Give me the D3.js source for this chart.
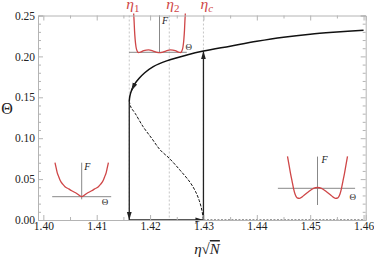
<!DOCTYPE html>
<html>
<head>
<meta charset="utf-8">
<script src="https://cdn.jsdelivr.net/npm/d3@7"></script>
<style>
body { margin: 0; background: #fff; }
text { font-family: "Liberation Serif", "Times New Roman", serif; }
</style>
</head>
<body>
<svg id="chart"></svg>
<script>
// axis ticks
const xTicks = [1.40, 1.41, 1.42, 1.43, 1.44, 1.45, 1.46];
const xMinor = [1.405, 1.415, 1.425, 1.435, 1.445, 1.455];
const yTicks = [0.00, 0.05, 0.10, 0.15, 0.20, 0.25];
const yMinor = [0.01, 0.02, 0.03, 0.04, 0.06, 0.07, 0.08, 0.09, 0.11, 0.12, 0.13, 0.14,
                0.16, 0.17, 0.18, 0.19, 0.21, 0.22, 0.23, 0.24];

// stable (upper) branch, starting at the turning point
const upperEta   = [1.4161, 1.4162, 1.4165, 1.4171, 1.4180, 1.4190, 1.4206, 1.4231, 1.4269,
                    1.4300, 1.4350, 1.4400, 1.4450, 1.4500, 1.4550, 1.4600];
const upperTheta = [0.1455, 0.151, 0.158, 0.166, 0.1735, 0.180, 0.1875, 0.1945, 0.2017,
                    0.2065, 0.2125, 0.2185, 0.2235, 0.2272, 0.2298, 0.2320];

// unstable (lower) branch
const lowerEta   = [1.4161, 1.4164, 1.4172, 1.4187, 1.4203, 1.4219, 1.4236, 1.4256, 1.4275,
                    1.4285, 1.4292, 1.4297, 1.4300];
const lowerTheta = [0.1455, 0.138, 0.1304, 0.114, 0.0999, 0.0856, 0.0754, 0.061, 0.046,
                    0.035, 0.024, 0.012, 0.000];

// unstable zero solution
const zeroEta = [1.430, 1.460];
const zeroTheta = [0, 0];

// hysteresis jumps
const jumpEta   = [[1.4161, 1.4161], [1.4161, 1.4300], [1.4300, 1.4300]];
const jumpTheta = [[0.1455, 0.000], [0.000, 0.000], [0.000, 0.2065]];

// special couplings
const etaMarks = [1.4161, 1.4236, 1.4300];
const etaSubs = ["1", "2", "c"];

// free energy insets (Theta, F)
const inset1Theta = [-1.23, -1.21, -1.19, -1.16, -1.12, -1.07, -1.0, -0.9, -0.75, -0.52, -0.3, -0.12, 0,
                     0.12, 0.3, 0.52, 0.75, 0.9, 1.0, 1.07, 1.12, 1.16, 1.19, 1.21, 1.23];
const inset1F     = [1.05, 0.85, 0.6, 0.35, 0.15, 0.04, -0.01, 0.005, 0.045, 0.065, 0.035, 0.0, -0.01,
                     0.0, 0.035, 0.065, 0.045, 0.005, -0.01, 0.04, 0.15, 0.35, 0.6, 0.85, 1.05];

const inset2Theta = [-2.67, -2.55, -2.45, -2.3, -2.17, -1.9, -1.67, -1.3, -1.0, -0.5, 0,
                     0.5, 1.0, 1.3, 1.67, 1.9, 2.17, 2.3, 2.45, 2.55, 2.67];
const inset2F     = [3.4, 2.85, 2.4, 2.0, 1.67, 1.25, 1.0, 0.78, 0.6, 0.32, 0,
                     0.32, 0.6, 0.78, 1.0, 1.25, 1.67, 2.0, 2.4, 2.85, 3.4];

const inset3Theta = [-1.5, -1.42, -1.35, -1.27, -1.2, -1.12, -1.02, -0.9, -0.7, -0.45, -0.2, 0,
                     0.2, 0.45, 0.7, 0.9, 1.02, 1.12, 1.2, 1.27, 1.35, 1.42, 1.5];
const inset3F     = [3.2, 2.3, 1.5, 0.7, 0.0, -0.6, -0.95, -1.0, -0.75, -0.35, 0.0, 0.08,
                     0.0, -0.35, -0.75, -1.0, -0.95, -0.6, 0.0, 0.7, 1.5, 2.3, 3.2];

const W = 374, H = 259;
const red = "#cf4647";
const frameCol = "#b4b4b4";

const svg = d3.select("#chart").attr("width", W).attr("height", H);

// frame is a little wider than the tick range
const x = d3.scaleLinear().domain([1.3990, 1.4604]).range([38, 365.7]);
const y = d3.scaleLinear().domain([0, 0.25]).range([220, 15.5]);

svg.append("defs").append("marker")
    .attr("id", "arr")
    .attr("markerUnits", "userSpaceOnUse")
    .attr("markerWidth", 9)
    .attr("markerHeight", 6)
    .attr("refX", 8)
    .attr("refY", 3)
    .attr("orient", "auto")
  .append("path")
    .attr("d", "M0,0.6 L8,3 L0,5.4 Z")
    .attr("fill", "#222");

// dashed guides at eta1, eta2, etac
svg.append("g").selectAll("line").data(etaMarks).enter().append("line")
    .attr("x1", d => x(d)).attr("x2", d => x(d))
    .attr("y1", y(0.25)).attr("y2", y(0))
    .attr("stroke", "#b8b8b8")
    .attr("stroke-width", 0.8)
    .attr("stroke-dasharray", "2,2");

// insets
function drawInset(th, F, box, hDom, vDom, fPos, tPos)
{
    let ix = d3.scaleLinear().domain([0, 1]).range([box.cx, box.cx + box.sx]);
    let iy = d3.scaleLinear().domain([0, 1]).range([box.cy, box.cy - box.sy]);
    let g = svg.append("g");
    g.append("line")
        .attr("x1", ix(hDom[0])).attr("x2", ix(hDom[1]))
        .attr("y1", iy(0)).attr("y2", iy(0))
        .attr("stroke", "#7a7a7a").attr("stroke-width", 0.9);
    g.append("line")
        .attr("x1", ix(0)).attr("x2", ix(0))
        .attr("y1", iy(vDom[0])).attr("y2", iy(vDom[1]))
        .attr("stroke", "#7a7a7a").attr("stroke-width", 0.9);
    let pts = th.map((t, i) => [t, F[i]]);
    g.append("path")
        .attr("d", d3.line().x(d => ix(d[0])).y(d => iy(d[1])).curve(d3.curveMonotoneX)(pts))
        .attr("fill", "none")
        .attr("stroke", red)
        .attr("stroke-width", 1.3);
    g.append("text")
        .attr("x", ix(fPos[0])).attr("y", iy(fPos[1]))
        .style("font-size", "10px").style("font-style", "italic")
        .attr("fill", "#222")
        .text("F");
    g.append("text")
        .attr("x", ix(tPos[0])).attr("y", iy(tPos[1]))
        .style("font-size", "9px")
        .attr("fill", "#222")
        .text("Θ");
}

drawInset(inset1Theta, inset1F, {cx: 159.5, cy: 52.3, sx: 21, sy: 37},
          [-1.45, 1.30], [-0.02, 1.0], [0.12, 0.76], [1.24, 0.06]);
drawInset(inset2Theta, inset2F, {cx: 81.7, cy: 196.7, sx: 10, sy: 10},
          [-2.95, 2.95], [-0.26, 3.4], [0.25, 2.7], [2.0, -0.85]);
drawInset(inset3Theta, inset3F, {cx: 317.5, cy: 188.3, sx: 20, sy: 10},
          [-1.98, 1.88], [-1.67, 3.17], [0.2, 2.5], [1.6, -1.2]);

// bifurcation curves
let line = d3.line().x(d => x(d[0])).y(d => y(d[1])).curve(d3.curveCatmullRom);

let upperPts = upperEta.map((e, i) => [e, upperTheta[i]]);
let lowerPts = lowerEta.map((e, i) => [e, lowerTheta[i]]);

svg.append("path")
    .attr("d", line(upperPts))
    .attr("fill", "none")
    .attr("stroke", "#111")
    .attr("stroke-width", 1.5);

// small arrow on upper branch, pointing towards the turning point
svg.append("path")
    .attr("d", d3.line().x(d => x(d[0])).y(d => y(d[1]))([upperPts[3], upperPts[2]]))
    .attr("fill", "none")
    .attr("stroke", "#111")
    .attr("stroke-width", 1.2)
    .attr("marker-end", "url(#arr)");

svg.append("path")
    .attr("d", line(lowerPts))
    .attr("fill", "none")
    .attr("stroke", "#111")
    .attr("stroke-width", 1)
    .attr("stroke-dasharray", "3,1.5");

svg.append("path")
    .attr("d", d3.line().x(d => x(d[0])).y(d => y(d[1]))(zeroEta.map((e, i) => [e, zeroTheta[i]])))
    .attr("fill", "none")
    .attr("stroke", "#333")
    .attr("stroke-width", 1)
    .attr("stroke-dasharray", "2,1.5");

for (let i = 0; i < jumpEta.length; i++)
{
    svg.append("line")
        .attr("x1", x(jumpEta[i][0])).attr("y1", y(jumpTheta[i][0]))
        .attr("x2", x(jumpEta[i][1])).attr("y2", y(jumpTheta[i][1]))
        .attr("stroke", "#222")
        .attr("stroke-width", 1.3)
        .attr("marker-end", "url(#arr)");
}

// frame with inward ticks
function frame(axis, minor, pos, labels, pad)
{
    let g = svg.append("g").attr("transform", pos);
    g.call(axis.tickSize(-5).tickPadding(pad).tickFormat(labels ? d3.format(".2f") : ""));
    let gm = svg.append("g").attr("transform", pos);
    gm.call(minor.tickSize(-3).tickFormat(""));
    gm.select(".domain").remove();
    [g, gm].forEach(s => {
        s.select(".domain").attr("stroke", frameCol);
        s.selectAll(".tick line").attr("stroke", frameCol);
    });
    g.selectAll(".tick text")
        .attr("fill", "#222")
        .style("font-family", "'Liberation Serif', 'Times New Roman', serif")
        .style("font-size", "11.5px");
}

frame(d3.axisBottom(x).tickValues(xTicks), d3.axisBottom(x).tickValues(xMinor),
      `translate(0,${y(0)})`, true, 2);
frame(d3.axisTop(x).tickValues(xTicks), d3.axisTop(x).tickValues(xMinor),
      `translate(0,${y(0.25)})`, false, 2);
frame(d3.axisLeft(y).tickValues(yTicks), d3.axisLeft(y).tickValues(yMinor),
      `translate(${x.range()[0]},0)`, true, 3);
frame(d3.axisRight(y).tickValues(yTicks), d3.axisRight(y).tickValues(yMinor),
      `translate(${x.range()[1]},0)`, false, 3);

// eta labels on top
let etaLab = svg.append("g").selectAll("text").data(etaMarks).enter().append("text")
    .attr("x", d => x(d) - 3)
    .attr("y", 8.5)
    .attr("fill", red)
    .style("font-size", "15.5px")
    .style("font-style", "italic");
etaLab.append("tspan").text("η");
etaLab.append("tspan")
    .attr("dy", 3)
    .style("font-size", "11px")
    .style("font-style", (d, i) => etaSubs[i] == "c" ? "italic" : "normal")
    .text((d, i) => etaSubs[i]);

// axis labels
svg.append("text")
    .attr("x", 7).attr("y", 114)
    .attr("text-anchor", "middle")
    .style("font-size", "16px")
    .attr("fill", "#222")
    .text("Θ");

let xl = svg.append("text")
    .attr("x", 207).attr("y", 254)
    .attr("text-anchor", "middle")
    .style("font-size", "15px")
    .attr("fill", "#222");
xl.append("tspan").style("font-style", "italic").text("η");
xl.append("tspan").text("√");
xl.append("tspan").style("font-style", "italic")
    .style("text-decoration", "overline")
    .text("N");
</script>
</body>
</html>
